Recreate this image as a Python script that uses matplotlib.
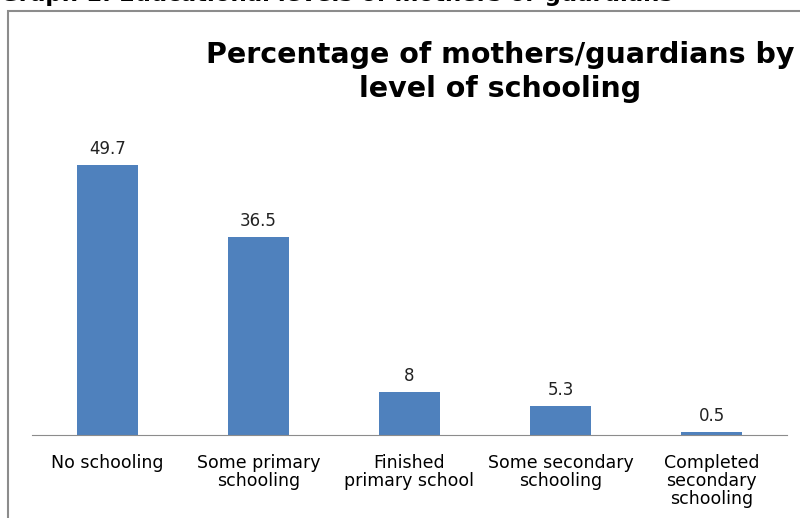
import matplotlib.pyplot as plt
from matplotlib.patches import Rectangle

categories = ['No schooling', 'Some primary\nschooling', 'Finished\nprimary school',
              'Some secondary\nschooling', 'Completed\nsecondary\nschooling']
values = [49.7, 36.5, 8, 5.3, 0.5]
value_labels = ['49.7', '36.5', '8', '5.3', '0.5']

W, H = 800, 518
fig = plt.figure(figsize=(W / 100, H / 100), dpi=100)

# chart frame (cut off at right and bottom like the source)
fig.patches.append(Rectangle((8 / W, -0.1), 1.2, 1 - 11 / H + 0.1, transform=fig.transFigure,
                             fill=False, edgecolor='#8c8c8c', linewidth=1.5))

# cropped caption above the frame
fig.text(0.0, 1 - 1 / H, 'Graph 1: Educational levels of mothers or guardians',
         fontsize=16.5, fontweight='bold', family='DejaVu Sans', va='baseline', ha='left')

fig.text(500 / W, 1 - 55 / H, 'Percentage of mothers/guardians by',
         fontsize=20.5, fontweight='bold', family='DejaVu Sans', ha='center', va='center')
fig.text(500 / W, 1 - 89 / H, 'level of schooling',
         fontsize=20.5, fontweight='bold', family='DejaVu Sans', ha='center', va='center')

ax = fig.add_axes([32 / W, 1 - 435 / H, (787 - 32) / W, (435 - 109) / H])
x = range(len(values))
ax.bar(x, values, width=0.4, color='#4f81bd')
for i, (v, lab) in enumerate(zip(values, value_labels)):
    ax.annotate(lab, (i, v), xytext=(0, 5), textcoords='offset points',
                ha='center', va='bottom', fontsize=12, family='DejaVu Sans', color='#222222')

ax.set_xlim(-0.5, len(values) - 0.5)
ax.set_ylim(0, 60)
for s in ['left', 'right', 'top']:
    ax.spines[s].set_visible(False)
ax.spines['bottom'].set_color('#8c8c8c')
ax.set_yticks([])
ax.set_xticks(list(x))
ax.set_xticklabels(categories, fontsize=12.5, family='DejaVu Sans', linespacing=1.0)
ax.tick_params(axis='x', length=0, pad=14)

fig.savefig('out.png', dpi=100)
